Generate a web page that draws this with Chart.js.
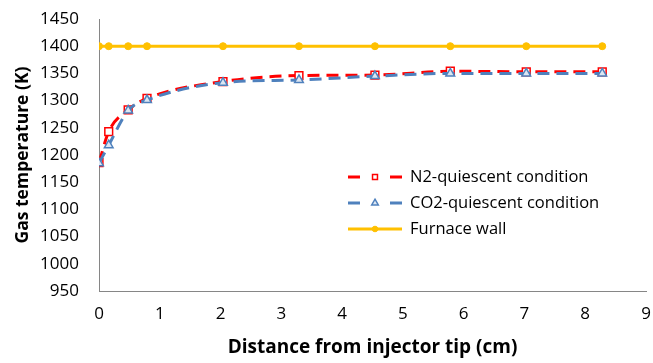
<!DOCTYPE html>
<html>
<head>
<meta charset="utf-8">
<script src="https://cdn.jsdelivr.net/npm/chart.js@4.4.1/dist/chart.umd.min.js"></script>
<style>
  html, body { margin: 0; padding: 0; background: #fff; }
  #wrap { width: 653px; height: 363px; }
</style>
</head>
<body>
<div id="wrap"><canvas id="myChart" width="653" height="363"></canvas></div>
<script>
(function () {
// distance from injector tip (cm)
var distance = [0, 0.16, 0.48, 0.79, 2.04, 3.29, 4.54, 5.78, 7.03, 8.28];
var n2Temp = [1186, 1243, 1283, 1304, 1335, 1346, 1347, 1354, 1353, 1353];
var co2Temp = [1185, 1218, 1282, 1301, 1333, 1338, 1345, 1350, 1350, 1350];
var wallTemp = [1400, 1400, 1400, 1400, 1400, 1400, 1400, 1400, 1400, 1400];
var seriesNames = ['N2-quiescent condition', 'CO2-quiescent condition', 'Furnace wall'];

function pts(ys) {
  return distance.map(function (x, i) { return { x: x, y: ys[i] }; });
}

var FONT = '"Open Sans", "DejaVu Sans", sans-serif';
var axisGrey = '#868686';
var legendRadius = [3.5, 3.8, 2.8];

// legend drawn like Excel: line sample with marker in the middle
var excelLegend = {
  id: 'excelLegend',
  afterDraw: function (chart) {
    var c = chart.ctx;
    var rows = [177, 203, 229];
    chart.data.datasets.forEach(function (ds, i) {
      var y = rows[i];
      c.save();
      c.strokeStyle = ds.borderColor;
      c.lineWidth = ds.borderWidth;
      c.beginPath();
      if (ds.borderDash) {
        c.moveTo(348, y); c.lineTo(360, y);
        c.moveTo(390, y); c.lineTo(402, y);
      } else {
        c.moveTo(348, y); c.lineTo(402, y);
      }
      c.stroke();
      c.fillStyle = ds.pointBackgroundColor;
      c.strokeStyle = ds.borderColor;
      c.lineWidth = ds.pointBorderWidth;
      Chart.helpers.drawPoint(c, {
        pointStyle: ds.pointStyle,
        radius: legendRadius[i],
        borderWidth: ds.pointBorderWidth
      }, 375, y);
      c.fillStyle = '#000';
      c.font = '16.5px ' + FONT;
      c.textBaseline = 'middle';
      c.textAlign = 'left';
      c.fillText(seriesNames[i], 410, y);
      c.restore();
    });
  }
};

var ctx = document.getElementById('myChart');
var myChart = new Chart(ctx, {
  type: 'line',
  data: {
    datasets: [{
      label: seriesNames[0],
      data: pts(n2Temp),
      borderColor: '#FF0000',
      borderWidth: 3,
      borderDash: [12, 7],
      pointStyle: 'rect',
      pointRadius: 5.5,
      pointBorderWidth: 1.5,
      pointBackgroundColor: '#ffffff',
      cubicInterpolationMode: 'monotone',
      order: 2
    }, {
      label: seriesNames[1],
      data: pts(co2Temp),
      borderColor: '#4F81BD',
      borderWidth: 3,
      borderDash: [12, 7],
      pointStyle: 'triangle',
      pointRadius: 5,
      pointBorderWidth: 1.5,
      pointBackgroundColor: '#DCE6F2',
      cubicInterpolationMode: 'monotone',
      order: 1
    }, {
      label: seriesNames[2],
      data: pts(wallTemp),
      borderColor: '#FFC000',
      borderWidth: 3,
      pointStyle: 'circle',
      pointRadius: 3.5,
      pointBorderWidth: 1,
      pointBackgroundColor: '#FFC000',
      tension: 0,
      order: 0
    }]
  },
  options: {
    responsive: false,
    animation: false,
    layout: { padding: { top: 19, right: 7, left: 0, bottom: 0 } },
    plugins: {
      legend: { display: false },
      tooltip: { enabled: false }
    },
    scales: {
      x: {
        type: 'linear',
        min: 0, max: 9,
        ticks: {
          stepSize: 1, color: '#000', padding: 7,
          font: { family: FONT, size: 17 },
          callback: function (v) { return String(v); }
        },
        grid: { display: false, drawTicks: true, tickLength: 6, tickColor: axisGrey },
        border: { color: axisGrey, width: 1 },
        title: {
          display: true,
          text: 'Distance from injector tip (cm)',
          color: '#000',
          font: { family: FONT, size: 19, weight: 'bold' },
          padding: { top: 4, bottom: 4 }
        },
        afterFit: function (s) {
          s.height = 72;
          s.paddingLeft = 0;
          s.paddingRight = 0;
        }
      },
      y: {
        min: 950, max: 1450,
        ticks: {
          stepSize: 50, color: '#000', padding: 14,
          font: { family: FONT, size: 17 },
          callback: function (v) { return String(v); }
        },
        grid: { display: false, drawTicks: true, tickLength: 6, tickColor: axisGrey },
        border: { color: axisGrey, width: 1 },
        title: {
          display: true,
          text: 'Gas temperature (K)',
          color: '#000',
          font: { family: FONT, size: 17.5, weight: 'bold' },
          padding: { top: 13, bottom: 4 }
        },
        afterFit: function (s) {
          s.width = 99;
          s.paddingTop = 0;
          s.paddingBottom = 0;
        }
      }
    }
  },
  plugins: [excelLegend]
});
})();
</script>
</body>
</html>
